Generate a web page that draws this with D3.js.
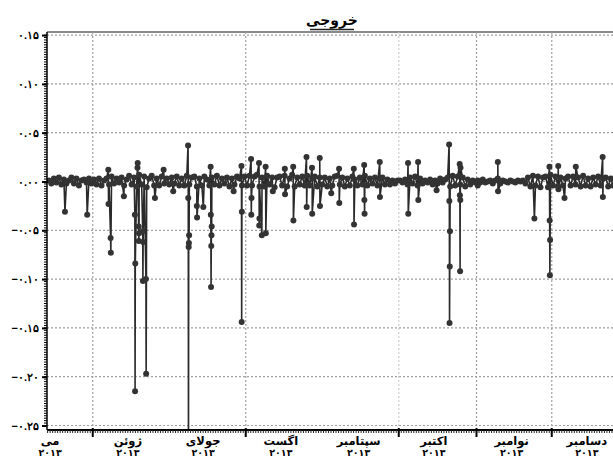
<!DOCTYPE html>
<html>
<head>
<meta charset="utf-8">
<script src="https://cdn.jsdelivr.net/npm/d3@7"></script>
<style>
  body { margin: 0; background: #fff; }
  svg { display: block; font-family: "DejaVu Sans", sans-serif; }
</style>
</head>
<body>
<div id="chart"></div>
<script>
// Chart values
var title = "خروجی";
var monthNames = ["می", "ژوئن", "جولای", "اگست", "سپتامبر", "اکتبر", "نوامبر", "دسامبر"];
var yearLabel = "۲۰۱۳";
var yTicks = [0.15, 0.10, 0.05, 0.00, -0.05, -0.10, -0.15, -0.20, -0.25];
var gridMonths = ["2013-06-01", "2013-08-01", "2013-10-01", "2013-11-01", "2013-12-01"];

// daily residuals, May 14 .. Dec 31
var mayNoise = [0.001,-0.002,0.003,-0.001,0.004,-0.003,0.002,-0.002,0.001,0.004,-0.002,0.003,-0.004,0.001,0.002,-0.001,0.003,-0.002];
var juneNoise = [0.002,-0.003,0.003,-0.004,0.001,0.003,-0.003,0.005,-0.002,0.003,-0.001,0.004,-0.004,0.002,0.006,-0.003,0.004,-0.005,0.007,-0.003,0.005,-0.006,0.003,0.006,-0.004,0.003,-0.004,0.005,-0.002,0.003];
var julyNoise = [-0.003,0.004,-0.002,0.005,-0.004,0.003,-0.004,0.006,-0.003,0.004,0.005,-0.005,0.003,-0.004,0.005,0.002,-0.004,0.004,-0.003,0.006,-0.004,0.003,-0.002,0.004,-0.005,0.003,-0.003,0.005,0.003,-0.004,0.005];
var augNoise = [-0.004,0.006,-0.004,0.005,0.007,-0.005,0.004,-0.005,0.006,-0.003,0.004,-0.006,0.004,0.005,-0.004,0.006,-0.005,0.003,0.007,-0.005,0.004,-0.003,0.005,-0.004,0.006,-0.004,0.003,0.005,-0.005,0.004,-0.003];
var sepNoise = [0.004,-0.005,0.003,-0.004,0.005,0.006,-0.003,0.004,-0.005,0.003,-0.004,0.005,0.002,-0.004,0.004,-0.003,0.006,-0.004,0.003,-0.002,0.004,-0.004,0.003,0.004,-0.003,0.002,-0.003,0.001,-0.002,0.001];
var octNoise = [0.001,-0.001,0.002,-0.003,0.004,-0.002,0.005,-0.004,0.003,-0.002,0.001,-0.001,0.002,-0.003,0.001,-0.002,0.003,-0.001,0.002,0.004,-0.005,0.006,-0.004,0.005,-0.003,0.004,-0.005,0.002,-0.003,0.001,-0.001];
var novNoise = [0.001,-0.001,0.002,-0.001,0.000,0.001,-0.002,0.001,0.003,-0.002,0.001,0.000,-0.001,0.001,0.000,-0.001,0.001,0.000,0.001,-0.002,0.004,-0.005,0.006,-0.004,0.005,-0.006,0.004,0.005,-0.006,0.007];
var decNoise = [-0.004,0.005,-0.005,0.004,-0.004,0.003,0.005,-0.004,0.005,-0.003,0.004,-0.005,0.006,-0.004,0.003,-0.005,0.004,-0.003,0.005,-0.004,0.003,0.004,-0.005,0.003,-0.004,0.005,-0.003,0.004,-0.005,0.003,-0.002];
var noiseStarts = ["2013-05-14", "2013-06-01", "2013-07-01", "2013-08-01", "2013-09-01", "2013-10-01", "2013-11-01", "2013-12-01"];

// larger excursions (each group is consecutive readings)
var spikeTimes = [
  "2013-05-20 22:00", "2013-05-29 19:00", "2013-06-07 05:00", "2013-06-08 03:00",
  "2013-06-13 10:00", "2013-06-17 19:00", "2013-06-18 20:00", "2013-06-19 07:00",
  "2013-06-20 22:00", "2013-06-22 05:00", "2013-06-25 19:00", "2013-06-29 06:00",
  "2013-07-03 02:00", "2013-07-09 00:00", "2013-07-12 12:00", "2013-07-15 02:00",
  "2013-07-18 00:00", "2013-07-27 04:00", "2013-07-30 07:00", "2013-08-03 03:00",
  "2013-08-06 07:00", "2013-08-07 10:00", "2013-08-08 22:00", "2013-08-11 19:00",
  "2013-08-16 14:00", "2013-08-19 22:00", "2013-08-25 05:00", "2013-08-27 10:00",
  "2013-08-30 12:00", "2013-09-04 02:00", "2013-09-07 05:00", "2013-09-13 02:00",
  "2013-09-17 05:00", "2013-09-23 10:00", "2013-10-04 17:00", "2013-10-08 17:00",
  "2013-10-16 02:00", "2013-10-21 02:00", "2013-10-25 07:00", "2013-11-01 12:00",
  "2013-11-09 12:00", "2013-11-24 02:00", "2013-11-30 02:00", "2013-12-03 14:00",
  "2013-12-06 02:00", "2013-12-10 14:00", "2013-12-21 07:00"
];
var spikeValues = [
  [-0.031], [-0.034], [0.012, -0.023], [-0.058, -0.073],
  [-0.015], [-0.034, -0.215, -0.084], [0.014, 0.019], [-0.046, -0.061, -0.053],
  [-0.051, -0.102, -0.062], [-0.10, -0.197], [-0.017], [0.012],
  [-0.010], [0.037, -0.017, -0.30, -0.067, -0.063, -0.055], [-0.025, -0.037], [-0.026],
  [0.015, -0.034, -0.108, -0.066, -0.055, -0.046], [-0.010], [0.016, -0.144, -0.031], [0.023, -0.034, -0.017],
  [0.019, -0.045, -0.038], [-0.055], [0.015, -0.053], [-0.010],
  [0.013, -0.013], [0.015, -0.040], [0.025, -0.026], [0.014, -0.033],
  [0.024, -0.025], [-0.012], [0.013, -0.022], [0.013, -0.044],
  [0.017, -0.019, -0.033], [0.020, -0.016], [0.019, -0.033], [0.020, -0.019],
  [-0.009], [0.038, -0.020, -0.145, -0.087, -0.051], [0.018, -0.014, -0.092, -0.019, 0.014], [-0.004],
  [0.020, -0.010], [-0.038], [0.015, -0.040, -0.096, -0.060], [0.016, -0.008],
  [-0.017], [0.015], [0.025, -0.016]
];

var width = 613, height = 457;
var margin = {top: 32, left: 47, bottom: 430};

var parseDay = d3.timeParse("%Y-%m-%d");
var parseTime = d3.timeParse("%Y-%m-%d %H:%M");

// Build the series
var data = [];
[mayNoise, juneNoise, julyNoise, augNoise, sepNoise, octNoise, novNoise, decNoise].forEach(function(arr, m) {
  var start = parseDay(noiseStarts[m]);
  arr.forEach(function(v, i) {
    data.push({date: d3.timeHour.offset(d3.timeDay.offset(start, i), 12), value: v});
  });
});
spikeTimes.forEach(function(t, i) {
  var start = parseTime(t);
  spikeValues[i].forEach(function(v, k) {
    data.push({date: d3.timeHour.offset(start, k * 2), value: v});
  });
});
data.sort(function(a, b) { return a.date - b.date; });

var svg = d3.select("#chart").append("svg")
    .attr("width", width)
    .attr("height", height);

var x = d3.scaleTime()
    .domain([new Date(2013, 4, 14), new Date(2013, 11, 31)])
    .range([47.6, 627]);
var y = d3.scaleLinear()
    .domain([-0.25, 0.15])
    .range([425.5, 35.1]);

var persian = function(s) {
  return s.replace(/[0-9]/g, function(c) { return "۰۱۲۳۴۵۶۷۸۹"[+c]; });
};

// Title
svg.append("text")
    .attr("x", 332)
    .attr("y", 25)
    .attr("text-anchor", "middle")
    .attr("font-size", 14)
    .attr("font-weight", "bold")
    .attr("direction", "rtl")
    .text(title);
svg.append("line")
    .attr("x1", 310).attr("x2", 354)
    .attr("y1", 29.5).attr("y2", 29.5)
    .attr("stroke", "#222").attr("stroke-width", 1.5);

// Top frame
svg.append("line")
    .attr("x1", margin.left).attr("x2", width)
    .attr("y1", margin.top).attr("y2", margin.top)
    .attr("stroke", "#8a8a8a").attr("stroke-width", 2);

// Grid
svg.append("g").selectAll("line")
    .data(yTicks)
  .enter().append("line")
    .attr("x1", margin.left).attr("x2", width)
    .attr("y1", function(d) { return y(d); })
    .attr("y2", function(d) { return y(d); })
    .attr("stroke", "#a0a0a0")
    .attr("stroke-width", 1.2)
    .attr("stroke-dasharray", "2,2");

svg.append("g").selectAll("line")
    .data(gridMonths.map(parseDay))
  .enter().append("line")
    .attr("x1", function(d) { return x(d); })
    .attr("x2", function(d) { return x(d); })
    .attr("y1", margin.top).attr("y2", margin.bottom)
    .attr("stroke", function(d, i) { return i == 2 ? "#cccccc" : "#a0a0a0"; })
    .attr("stroke-width", 1.2)
    .attr("stroke-dasharray", "2,2");

// Series
svg.append("defs").append("clipPath")
    .attr("id", "clip")
  .append("rect")
    .attr("x", margin.left)
    .attr("y", margin.top)
    .attr("width", width - margin.left)
    .attr("height", margin.bottom - margin.top);

var line = d3.line()
    .x(function(d) { return x(d.date); })
    .y(function(d) { return y(d.value); });

var plot = svg.append("g").attr("clip-path", "url(#clip)");

plot.append("path")
    .datum(data)
    .attr("fill", "none")
    .attr("stroke", "#2a2a2a")
    .attr("stroke-width", 1.6)
    .attr("d", line);

plot.append("g").selectAll("circle")
    .data(data)
  .enter().append("circle")
    .attr("cx", function(d) { return x(d.date); })
    .attr("cy", function(d) { return y(d.value); })
    .attr("r", 3)
    .attr("fill", "#333");

// Y axis
var yAxis = d3.axisLeft(y)
    .tickValues(yTicks)
    .tickSize(5)
    .tickPadding(3)
    .tickFormat(function(d) { return persian(d3.format(".2f")(d)); });

var yG = svg.append("g")
    .attr("transform", "translate(" + margin.left + ",0)")
    .call(yAxis);
yG.select(".domain").remove();
yG.append("line")
    .attr("y1", margin.top).attr("y2", margin.bottom)
    .attr("stroke", "#000").attr("stroke-width", 1.5);
yG.append("g").selectAll("line")
    .data(d3.range(-0.25, 0.1501, 0.0025))
  .enter().append("line")
    .attr("x1", -3).attr("x2", 0)
    .attr("y1", function(d) { return y(d); })
    .attr("y2", function(d) { return y(d); })
    .attr("stroke", "#000");
yG.selectAll(".tick line").attr("stroke-width", 2);
yG.selectAll(".tick text")
    .attr("font-size", 11)
    .attr("font-weight", "bold")
    .attr("direction", "ltr");

// X axis
var xG = svg.append("g")
    .attr("transform", "translate(0," + margin.bottom + ")");
xG.append("line")
    .attr("x1", margin.left).attr("x2", width)
    .attr("stroke", "#000").attr("stroke-width", 2);
xG.append("g").selectAll("line")
    .data(d3.timeDay.range(new Date(2013, 4, 14), new Date(2013, 11, 31)))
  .enter().append("line")
    .attr("x1", function(d) { return x(d); })
    .attr("x2", function(d) { return x(d); })
    .attr("y1", 0).attr("y2", 3)
    .attr("stroke", "#222");
xG.append("g").selectAll("line")
    .data(gridMonths.map(parseDay))
  .enter().append("line")
    .attr("x1", function(d) { return x(d); })
    .attr("x2", function(d) { return x(d); })
    .attr("y1", -2).attr("y2", 7)
    .attr("stroke", "#000").attr("stroke-width", 2);

var labels = xG.append("g").selectAll("g")
    .data(monthNames)
  .enter().append("g")
    .attr("transform", function(d, i) { return "translate(" + x(new Date(2013, 4 + i, 15)) + ",0)"; });
labels.append("text")
    .attr("y", 15)
    .attr("text-anchor", "middle")
    .attr("font-size", 11.5)
    .attr("font-weight", "bold")
    .attr("direction", "rtl")
    .text(function(d) { return d; });
labels.append("text")
    .attr("y", 26)
    .attr("text-anchor", "middle")
    .attr("font-size", 9.5)
    .attr("font-weight", "bold")
    .text(yearLabel);
</script>
</body>
</html>
